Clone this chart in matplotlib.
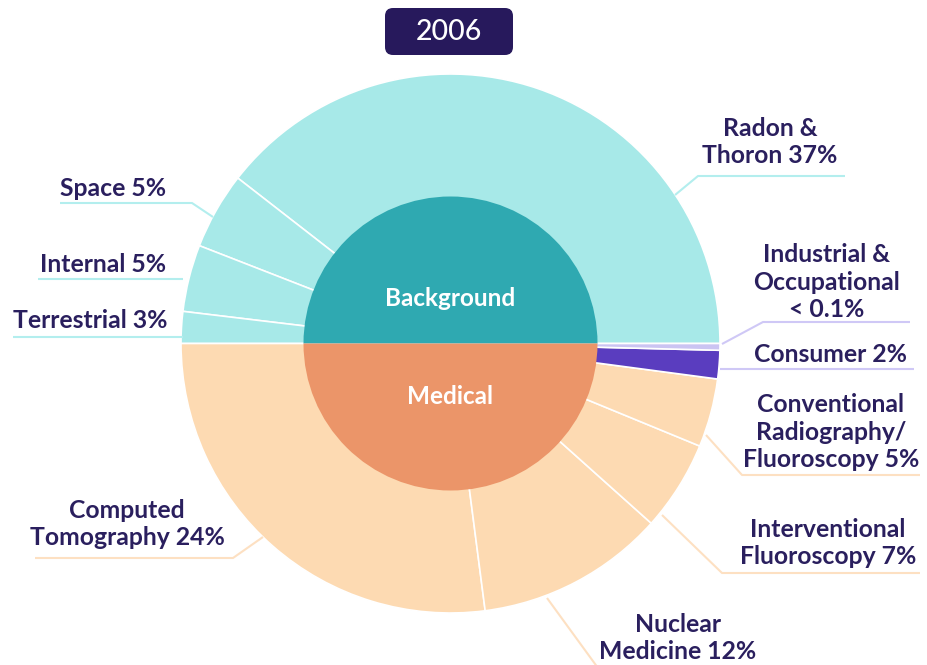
import matplotlib
matplotlib.use('Agg')
import matplotlib.pyplot as plt
from matplotlib.patches import FancyBboxPatch

plt.rcParams['font.family'] = ['Lato', 'DejaVu Sans']

# outer ring: share of the circle (counterclockwise from 3 o'clock)
outer_names = ['Radon & Thoron', 'Space', 'Internal', 'Terrestrial',
               'Computed Tomography', 'Nuclear Medicine', 'Interventional Fluoroscopy',
               'Conventional Radiography/Fluoroscopy', 'Consumer', 'Industrial & Occupational']
outer_share = [39.4, 4.6, 4.0, 1.9, 27.0, 11.3, 5.4, 4.1, 1.7, 0.4]
outer_colors = ['#a7e9e8'] * 4 + ['#fddab2'] * 4 + ['#5a3dbf', '#cbc4f2']
# inner ring
inner_names = ['Background', 'Medical']
inner_share = [50, 50]
inner_colors = ['#2fa9b1', '#eb9569']
# printed labels
label_text = ['Radon &\nThoron 37%', 'Space 5%', 'Internal 5%', 'Terrestrial 3%',
              'Computed\nTomography 24%', 'Nuclear\nMedicine 12%', 'Interventional\nFluoroscopy 7%',
              'Conventional\nRadiography/\nFluoroscopy 5%', 'Consumer 2%',
              'Industrial &\nOccupational\n< 0.1%']
year = '2006'

W, H = 927, 665
cx, cy, r_out, r_in = 450.5, 343.5, 269.5, 147
navy = '#2a1f5e'

fig = plt.figure(figsize=(W / 100, H / 100), dpi=100)
ax = fig.add_axes([0, 0, 1, 1])

# full outer pie with white separators, inner pie drawn over it
ax.pie(outer_share, colors=outer_colors, startangle=0, counterclock=False,
       radius=r_out, center=(cx, cy), frame=True,
       wedgeprops=dict(edgecolor='white', linewidth=1.2))
ax.pie(inner_share, colors=inner_colors, startangle=0, counterclock=False,
       radius=r_in, center=(cx, cy), frame=True,
       wedgeprops=dict(edgecolor='none'))
ax.set_xlim(0, W)
ax.set_ylim(H, 0)
ax.set_aspect('equal')
ax.axis('off')

ax.text(cx, 298, inner_names[0], color='white', fontsize=17.5, fontweight='bold', ha='center', va='center')
ax.text(cx, 396, inner_names[1], color='white', fontsize=17.5, fontweight='bold', ha='center', va='center')

cyan_line, peach_line, lav_line = '#b3eeee', '#fde0c2', '#cfc8f6'
# label layout: (x, y, ha, leader polyline, leader colour)
layout = [
    (770, 142, 'center', [(675, 195), (698, 176), (845, 176)], cyan_line),
    (166, 189, 'right', [(60, 203), (192, 203), (213, 217)], cyan_line),
    (166, 264, 'right', [(38, 279), (183, 279)], cyan_line),
    (168, 321, 'right', [(13, 337), (183, 337)], cyan_line),
    (127, 524, 'center', [(35, 558), (233, 558), (263, 537)], peach_line),
    (678, 638, 'center', [(547, 598), (598, 668)], peach_line),
    (828, 543, 'center', [(662, 515), (722, 573), (920, 573)], peach_line),
    (831, 432, 'center', [(706, 435), (742, 475), (920, 475)], peach_line),
    (831, 354, 'center', [(720, 369), (914, 369)], lav_line),
    (827, 282, 'center', [(722, 344), (763, 322), (910, 322)], lav_line),
]
for txt, (x, y, ha, pts, col) in zip(label_text, layout):
    xs, ys = zip(*pts)
    ax.plot(xs, ys, color=col, lw=1.5, solid_capstyle='butt')
    ax.text(x, y, txt, color=navy, fontsize=17.8, fontweight='bold', ha=ha, va='center',
            linespacing=1.22, multialignment='center')

# year badge
ax.add_patch(FancyBboxPatch((385, 8), 128, 47, boxstyle='round,pad=0,rounding_size=8',
                            facecolor='#27195c', edgecolor='none'))
ax.text(449, 32, year, color='white', fontsize=20.5, fontweight='medium', ha='center', va='center')

fig.savefig('out.png', dpi=100)
